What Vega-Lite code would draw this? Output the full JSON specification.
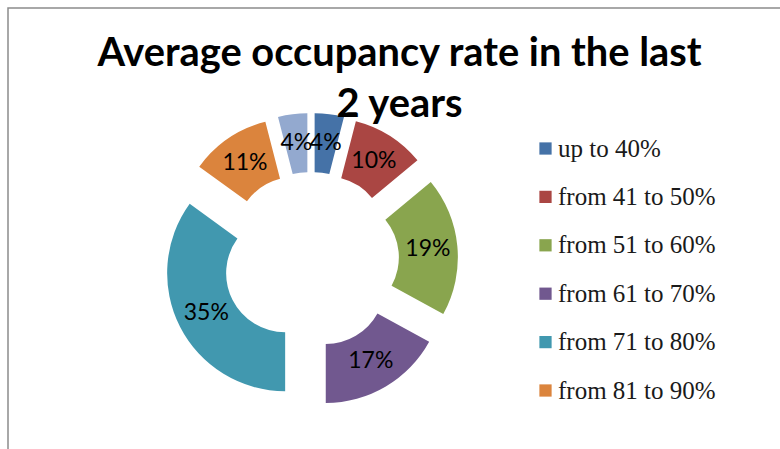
{
  "$schema": "https://vega.github.io/schema/vega-lite/v6.json",
  "width": 773,
  "height": 442,
  "autosize": {"type": "none"},
  "padding": {"left": 8, "top": 8, "right": 0, "bottom": 0},
  "background": "white",
  "view": {"stroke": "#8c8c8c", "strokeWidth": 1.5},
  "title": {
    "text": ["Average occupancy rate in the last", "2 years"],
    "font": "Lato",
    "fontSize": 39.8,
    "fontWeight": "bold",
    "color": "black",
    "lineHeight": 51,
    "anchor": "middle",
    "frame": "group",
    "offset": 0,
    "dx": 5,
    "dy": 118
  },
  "data": {
    "values": [
      {"cat": "up to 40%", "value": 4},
      {"cat": "from 41 to 50%", "value": 10},
      {"cat": "from 51 to 60%", "value": 19},
      {"cat": "from 61 to 70%", "value": 17},
      {"cat": "from 71 to 80%", "value": 35},
      {"cat": "from 81 to 90%", "value": 11},
      {"cat": "from 91 to 100%", "value": 4}
    ]
  },
  "transform": [
    {"window": [{"op": "row_number", "as": "ord"}]},
    {"stack": "value", "groupby": [], "sort": [{"field": "ord"}], "as": ["v0", "v1"]},
    {"calculate": "PI * (datum.v0 + datum.v1) / 100", "as": "mid"},
    {"calculate": "sin(datum.mid)", "as": "ex"},
    {"calculate": "cos(datum.mid)", "as": "ey"},
    {"calculate": "4.05 * datum.ex", "as": "lx"},
    {"calculate": "4.05 * datum.ey", "as": "ly"},
    {"calculate": "datum.value + '%'", "as": "label"}
  ],
  "layer": [
    {
      "mark": {"type": "arc", "radius": 118, "radius2": 59},
      "encoding": {
        "x": {"field": "ex", "type": "quantitative", "scale": {"domain": [-10.448, 16.207], "zero": false, "nice": false}, "axis": null},
        "y": {"field": "ey", "type": "quantitative", "scale": {"domain": [-6.552, 8.690], "zero": false, "nice": false}, "axis": null},
        "theta": {"field": "v0", "type": "quantitative", "stack": null, "scale": {"domain": [0, 100], "range": [0, 6.283185307179586]}},
        "theta2": {"field": "v1"},
        "color": {
          "field": "cat",
          "type": "nominal",
          "scale": {
            "domain": ["up to 40%", "from 41 to 50%", "from 51 to 60%", "from 61 to 70%", "from 71 to 80%", "from 81 to 90%", "from 91 to 100%"],
            "range": ["#4572A7", "#AA4643", "#89A54E", "#71588F", "#4198AF", "#DB843D", "#93A9CF"]
          },
          "legend": {
            "orient": "none",
            "legendX": 525,
            "legendY": 128,
            "title": null,
            "values": ["up to 40%", "from 41 to 50%", "from 51 to 60%", "from 61 to 70%", "from 71 to 80%", "from 81 to 90%"],
            "symbolType": "square",
            "symbolSize": 150,
            "symbolStrokeWidth": 0,
            "labelFont": "Liberation Serif",
            "labelFontSize": 25,
            "labelColor": "#1a1a1a",
            "labelOffset": 0,
            "rowPadding": 22.4,
            "labelLimit": 300
          }
        }
      }
    },
    {
      "mark": {"type": "text", "font": "Lato", "fontSize": 23, "color": "black", "align": "center", "baseline": "middle"},
      "encoding": {
        "x": {"field": "lx", "type": "quantitative", "scale": {"domain": [-10.448, 16.207], "zero": false, "nice": false}, "axis": null},
        "y": {"field": "ly", "type": "quantitative", "scale": {"domain": [-6.552, 8.690], "zero": false, "nice": false}, "axis": null},
        "text": {"field": "label"}
      }
    }
  ]
}
